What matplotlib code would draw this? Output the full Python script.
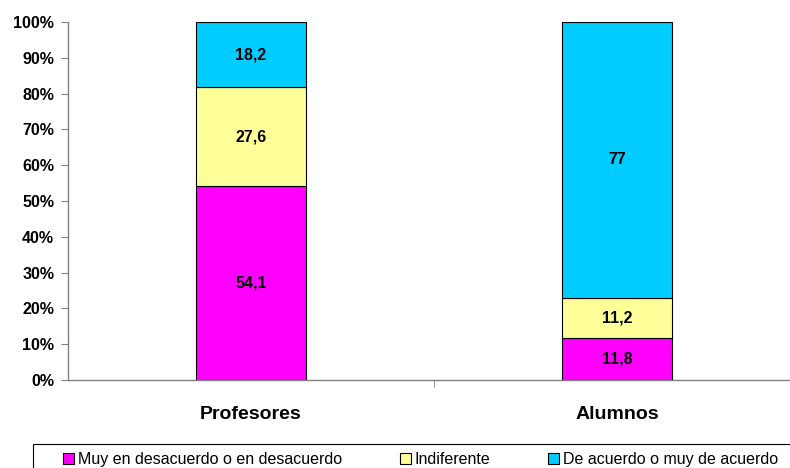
import numpy as np
import matplotlib.pyplot as plt
from matplotlib.ticker import FuncFormatter
from matplotlib.patches import Rectangle

categories = ["Profesores", "Alumnos"]
series_names = ["Muy en desacuerdo o en desacuerdo", "Indiferente", "De acuerdo o muy de acuerdo"]
desacuerdo = [54.1, 11.8]
indiferente = [27.6, 11.2]
acuerdo = [18.2, 77.0]
colors = ["#FF00FF", "#FFFF99", "#00CCFF"]

values = np.array([desacuerdo, indiferente, acuerdo])
totals = values.sum(axis=0)
shares = values / totals * 100

plt.rcParams['font.family'] = ['Liberation Sans', 'DejaVu Sans']

W, H = 790, 468
fig = plt.figure(figsize=(W / 100, H / 100), dpi=100)
ax = fig.add_axes([68 / W, 1 - 380 / H, (800 - 68) / W, (380 - 22) / H])

x = np.arange(len(categories))
bottom = np.zeros(len(categories))
for i in range(len(series_names)):
    ax.bar(x, shares[i], 0.303, bottom=bottom, color=colors[i], edgecolor="black",
           linewidth=0.8, label=series_names[i], zorder=2)
    for j in range(len(categories)):
        txt = ("%g" % values[i][j]).replace(".", ",")
        ax.text(x[j], bottom[j] + shares[i][j] / 2, txt, ha="center", va="center",
                fontsize=11.5, fontweight="bold")
    bottom += shares[i]

ax.set_xlim(-0.5, 1.5)
ax.set_ylim(0, 100)
ax.set_yticks(np.arange(0, 101, 10))
ax.yaxis.set_major_formatter(FuncFormatter(lambda v, p: "%d%%" % v))
ax.set_xticks(x)
ax.set_xticklabels(categories, fontsize=14, fontweight="bold")
ax.set_xticks([0.5], minor=True)
ax.tick_params(axis="x", which="major", length=0, pad=19)
ax.tick_params(axis="x", which="minor", length=5, direction="out", color="#808080")
ax.tick_params(axis="y", length=5, direction="out", color="#808080", labelsize=11.5, pad=5)
for lbl in ax.get_yticklabels():
    lbl.set_fontweight("bold")
for s in ["top", "right"]:
    ax.spines[s].set_visible(False)
for s in ["left", "bottom"]:
    ax.spines[s].set_color("#808080")
    ax.spines[s].set_linewidth(1)

# legend box runs off the right edge like the original
fig.patches.append(Rectangle((33 / W, -0.05), (810 - 33) / W, 0.05 + (H - 444) / H,
                             transform=fig.transFigure, fill=False, edgecolor="black",
                             linewidth=0.8, clip_on=False))
leg = fig.legend(loc="center left", bbox_to_anchor=(63 / W, 1 - 459.5 / H), ncol=3,
                 frameon=False, handlelength=0.7, handleheight=0.75, handletextpad=0.25,
                 columnspacing=3.6, borderpad=0, borderaxespad=0,
                 prop={"size": 11.5})

fig.savefig("out.png", dpi=100)
